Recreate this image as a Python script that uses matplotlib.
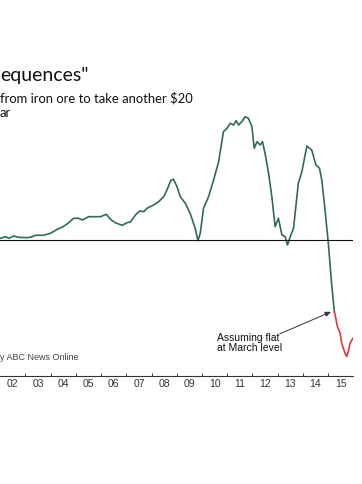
import matplotlib
matplotlib.use("Agg")
import matplotlib.pyplot as plt
import numpy as np

# ---- data (index units, 0 = flat line) ----
years_hist = [2002.01, 2002.21, 2002.34, 2002.54, 2002.73, 2003.07, 2003.27, 2003.40, 2003.72, 2003.99,
              2004.26, 2004.45, 2004.65, 2004.91, 2005.11, 2005.25, 2005.51, 2005.97, 2006.21, 2006.37,
              2006.56, 2006.83, 2007.03, 2007.16, 2007.36, 2007.53, 2007.69, 2007.82, 2008.08, 2008.28,
              2008.48, 2008.61, 2008.77, 2008.87, 2009.01, 2009.14, 2009.34, 2009.53, 2009.73, 2009.84,
              2009.93, 2010.06, 2010.26, 2010.46, 2010.66, 2010.85, 2010.99, 2011.12, 2011.25, 2011.36,
              2011.45, 2011.58, 2011.71, 2011.84, 2011.98, 2012.07, 2012.18, 2012.31, 2012.40, 2012.50,
              2012.64, 2012.77, 2012.90, 2013.03, 2013.17, 2013.30, 2013.39, 2013.50, 2013.63, 2013.82,
              2013.96, 2014.16, 2014.35, 2014.52, 2014.66, 2014.75, 2014.88, 2015.01, 2015.15, 2015.25]
values_hist = [1.7, 3.3, 1.7, 4.0, 2.7, 2.3, 3.3, 4.7, 4.7, 6.7,
               10.7, 12.7, 16.0, 21.7, 21.7, 20.0, 23.3, 23.3, 25.7, 20.7,
               17.3, 14.7, 17.3, 18.0, 25.0, 29.0, 28.3, 31.7, 35.0, 38.3,
               43.3, 50.0, 60.0, 60.7, 53.3, 43.3, 36.7, 26.7, 11.7, -0.7,
               6.7, 31.7, 43.3, 60.0, 78.3, 108.3, 111.7, 116.7, 115.0, 119.3,
               115.0, 118.3, 123.3, 121.7, 113.3, 91.7, 98.3, 95.0, 98.3, 86.7,
               66.7, 43.3, 13.3, 21.7, 5.0, 3.3, -5.0, 3.3, 11.7, 56.7,
               68.3, 94.0, 90.0, 75.0, 71.7, 60.0, 30.0, -3.3, -46.7, -71.7]

years_proj = [2015.25, 2015.32, 2015.37, 2015.48, 2015.54, 2015.67, 2015.74, 2015.80, 2015.87, 2015.98]
values_proj = [-71.7, -80.0, -86.7, -93.3, -103.3, -113.3, -116.7, -111.7, -103.3, -98.3]

tick_labels = ["02", "03", "04", "05", "06", "07", "08", "09", "10", "11", "12", "13", "14", "15"]
label_years = list(range(2002, 2016))

title_text = 'equences"'
subtitle_lines = ["from iron ore to take another $20", "ar"]
source_text = "y ABC News Online"
note_text = "Assuming flat\nat March level"

W, H = 362, 484
fig = plt.figure(figsize=(W / 100, H / 100), dpi=100)

x0 = 2002 - 0.25 / 25.25
x1 = 2016 + 0.0
ax_left = 0.0
ax_right = 353.3 / W
ax_bottom = (H - 376) / H
ax_top = (H - 100) / H
ax = fig.add_axes([ax_left, ax_bottom, ax_right - ax_left, ax_top - ax_bottom])
ax.set_xlim(x0, x1)
ax.set_ylim(-136, 140)

green = "#2f6b56"
red = "#dd3a3f"
ax.plot(years_hist, values_hist, color=green, lw=1.2, solid_joinstyle="round")
ax.plot(years_proj, values_proj, color=red, lw=1.2, solid_joinstyle="round")
ax.axhline(0, color="#111111", lw=0.8)

for s in ["top", "right", "left"]:
    ax.spines[s].set_visible(False)
ax.spines["bottom"].set_color("#333333")
ax.spines["bottom"].set_linewidth(0.8)
ax.set_yticks([])

ax.set_xticks(list(range(2003, 2016)))
ax.set_xticklabels([])
ax.tick_params(axis="x", which="major", direction="in", length=2.5, width=0.7, color="#333333")
ax.set_xticks([y + 0.5 for y in label_years], minor=True)
ax.set_xticklabels(tick_labels, minor=True, fontsize=7.5, color="#333333", family="Liberation Sans")
ax.tick_params(axis="x", which="minor", length=0, pad=2.5)

ax.annotate("", xy=(years_proj[0] - 0.03, values_proj[0] + 1), xytext=(2012.98, -95),
            arrowprops=dict(arrowstyle="-|>,head_length=0.35,head_width=0.15", color="#333333", lw=0.7))
ax.text(2010.6, -103, note_text, fontsize=7.5, family="Liberation Sans", color="#111111",
        ha="left", va="center", linespacing=1.0)

fig.text(0.0, 1 - 75 / H, title_text, fontsize=14, family="Lato", color="#111111", ha="left", va="center")
fig.text(0.0, 1 - 98 / H, subtitle_lines[0], fontsize=9.4, family="Lato", color="#111111", ha="left", va="center")
fig.text(0.0, 1 - 113 / H, subtitle_lines[1], fontsize=9.4, family="Lato", color="#111111", ha="left", va="center")
fig.text(0.0, 1 - 358 / H, source_text, fontsize=6.5, family="Liberation Sans", color="#444444",
         ha="left", va="center")

fig.savefig("out.png", dpi=100)
